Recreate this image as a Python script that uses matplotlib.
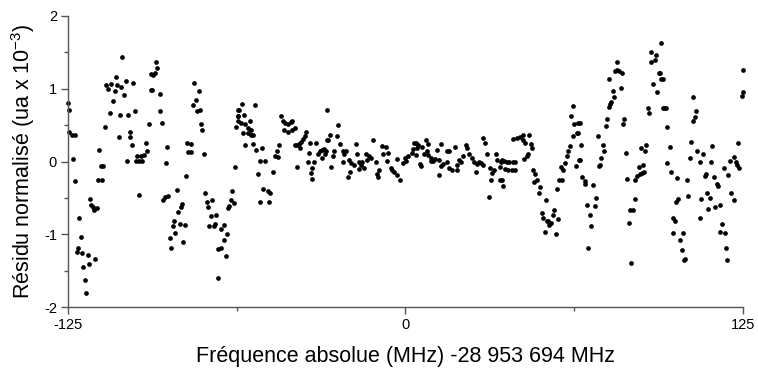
import matplotlib.pyplot as plt
from matplotlib.ticker import MultipleLocator

plt.rcParams['font.family'] = ['Liberation Sans', 'DejaVu Sans']
plt.rcParams['axes.unicode_minus'] = False
plt.rcParams['mathtext.fontset'] = 'custom'
plt.rcParams['mathtext.rm'] = 'Liberation Sans'
plt.rcParams['mathtext.it'] = 'Liberation Sans'

# frequency offset (MHz) and normalised residual (x 1e-3)
freq = [
    -125.0, -124.5, -124.5, -123.5, -122.5, -123.2, -122.3, -120.8, -120.3, -121.3,
    -121.6, -119.8, -119.3, -117.6, -117.3, -114.9, -118.8, -118.3, -116.8, -116.3,
    -115.8, -115.3, -114.4, -113.9, -112.4, -113.4, -112.9, -111.9, -111.4, -110.8,
    -110.2, -108.9, -109.3, -108.3, -107.7, -107.2, -106.8, -106.2, -105.7, -105.2,
    -104.9, -104.2, -103.7, -103.2, -102.9, -102.1, -101.9, -101.3, -100.8, -100.3,
    -99.8, -99.3, -98.8, -98.8, -98.1, -97.6, -96.8, -96.1, -95.6, -94.9,
    -94.4, -94.4, -92.4, -91.9, -92.7, -93.4, -94.0, -91.1, -90.9, -90.3,
    -88.4, -88.8, -89.7, -89.0, -87.8, -84.7, -81.3, -82.9, -83.2, -84.1,
    -85.7, -86.0, -83.7, -81.6, -85.2, -87.2, -86.7, -82.3, -80.8, -79.3,
    -80.4, -79.4, -74.6, -78.3, -76.6, -77.6, -78.6, -77.1, -76.1, -75.6,
    -75.2, -74.2, -73.4, -71.6, -73.0, -72.1, -70.2, -72.6, -71.1, -70.4,
    -68.4, -67.2, -66.2, -67.4, -68.4, -69.4, -66.5, -69.3, -63.1, -64.2,
    -64.7, -63.7, -65.6, -65.2, -62.2, -61.9, -62.2, -62.7,
    -60.5, -55.8, -61.6, -62.0, -59.8, -57.7, -61.0, -59.3, -58.5, -57.1,
    -56.3, -57.3, -58.3, -60.1, -59.3, -56.4, -55.2, -53.1, -46.2, -45.3,
    -44.5, -43.5, -42.5, -42.0, -45.0, -43.7, -42.2, -40.8, -36.7, -37.3,
    -38.0, -38.8, -39.5, -40.3, -41.0, -39.0, -46.7, -47.7, -48.2, -47.2,
    -53.9, -52.1, -54.6, -49.0, -52.6, -51.1, -50.1, -54.0, -50.6, -40.0,
    -35.8, -35.5, -36.1, -33.9, -34.6, -35.1, -34.6, -33.0, -31.8, -32.4,
    -31.1, -30.1, -29.7, -28.9, -30.9, -28.9,
    -25.0, -27.9, -25.4, -28.8, -24.2, -12.1, -18.5, -26.3, -26.9, -23.2,
    -22.2, -22.7, -29.4, -18.0, -14.8, -13.6, -12.7, -14.3, -23.0, -21.0,
    -20.1, -18.9, -17.1, -16.1, -16.6, -27.5, -20.5, -21.4, -17.3, -15.2,
    -10.9, -9.9, -10.6, -10.3, -8.7, -7.4, -8.2, -6.4, -6.9, -5.3,
    -4.9, -4.1, -3.2, -2.2, -3.2, -1.0, 0.0, 0.8, 0.2, 2.5,
    2.9, 3.3,
    3.8, 4.6, 7.5, 8.3, 4.4, 3.8, 6.2, 6.9, 7.8, 8.3,
    13.0, 11.5, 15.2, 16.1, 18.2, 9.6, 9.3, 10.3, 10.8, 12.4,
    14.0, 13.3, 5.4, 5.9, 15.5, 16.1, 17.4, 19.2, 19.0, 20.4,
    19.8, 21.4, 22.3, 22.7, 23.5, 24.8, 25.4, 26.4, 27.2, 28.1,
    28.8, 26.0, 12.4, 28.8, 29.3, 30.1, 33.4, 34.0, 35.5, 31.3,
    32.8, 32.2, 31.5, 35.0, 30.9,
    35.6, 36.5, 37.5, 38.5, 39.7, 40.6, 36.9, 38.1, 39.3, 40.6,
    35.0, 35.6, 36.2, 39.9, 41.4, 42.4, 43.4, 43.6, 44.3, 45.9,
    46.4, 46.7, 45.5, 44.9, 43.9, 47.1, 48.0, 48.6, 47.6, 49.8,
    49.6, 52.0, 50.4, 51.0, 52.3, 53.3, 53.8, 54.5, 55.0, 56.6,
    52.9, 51.7, 55.7, 56.2, 57.0, 57.8, 57.5, 58.5, 59.2, 59.9,
    60.3, 60.9, 62.2, 61.2, 62.4, 63.6, 61.9, 64.0, 64.4, 63.1,
    64.5, 63.9, 65.1, 64.5, 65.4, 66.4, 66.6, 69.5, 70.7, 70.3,
    67.4, 68.2, 68.6, 67.6, 71.3, 73.3, 73.5, 72.5, 71.9, 71.6,
    74.4, 74.8, 75.3, 75.6, 76.2, 77.2, 76.7, 79.7, 77.5, 78.5,
    79.2, 80.2, 78.2, 75.3, 80.9, 80.6, 81.8, 83.7, 82.7, 83.2,
    84.3, 84.9, 82.2, 85.1, 85.9, 86.7, 87.6, 88.3, 86.4, 87.9,
    87.1, 88.6, 89.2, 89.8, 90.1, 91.7, 93.2, 93.8, 94.8, 90.8,
    92.3, 91.1, 92.9, 94.8, 95.4,
    94.3, 95.3, 95.8, 96.3, 96.8, 97.8, 97.0, 98.3, 100.7, 104.2,
    100.2, 101.1, 99.2, 99.9, 99.2, 102.9, 101.7, 102.3, 103.2, 103.6,
    104.8, 106.6, 107.6, 107.3, 106.4, 105.7, 105.2, 108.1, 110.1, 108.9,
    113.4, 113.1, 111.0, 111.3, 114.1, 115.3, 115.9, 111.6, 112.8, 109.6,
    112.2, 114.7, 116.5, 109.1, 117.8, 119.6, 120.5, 121.5, 117.1, 116.3,
    118.4, 118.7, 119.2, 120.2, 121.7, 122.4, 122.9, 123.7, 123.3, 124.5,
    124.9, 124.9,
]
resid = [
    0.80, 0.71, 0.40, 0.37, 0.36, 0.03, -0.27, -0.78, -1.03, -1.19,
    -1.24, -1.25, -1.45, -1.28, -1.41, -1.34, -1.63, -1.80, -0.52, -0.59,
    -0.63, -0.66, -0.64, -0.25, -0.25, 0.16, -0.06, -0.06, 0.47, 1.05,
    0.99, 1.06, 0.67, 0.83, 0.97, 1.16, 1.05, 0.33, 0.64, 1.02,
    1.44, 0.91, 1.10, 0.01, 0.64, 0.34, 0.41, 0.22, 1.08, 0.69,
    0.01, 0.08, -0.46, 0.01, 0.08, 0.01, 0.09, 0.25, 0.14, 0.51,
    1.20, 0.98, 1.37, 1.28, 1.21, 1.19, 0.98, 0.93, 0.69, 0.53,
    0.20, -0.02, -0.53, -0.49, -0.47, -0.39, -0.20, -0.58, -0.62, -0.69,
    -0.82, -0.88, -0.86, -0.87, -0.98, -1.05, -1.19, -1.11, 0.25, 0.24,
    0.13, 0.13, 0.11, 1.08, 0.97, 0.84, 0.78, 0.69, 0.70, 0.52,
    0.43, -0.43, -0.56, -0.53, -0.62, -0.75, -0.73, -0.89, -0.89, -0.86,
    -0.92, -0.87, -0.99, -1.07, -1.19, -1.20, -1.29, -1.60, -0.07, -0.40,
    -0.53, -0.57, -0.64, -0.61, 0.70, 0.62, 0.55, 0.47,
    0.79, 0.78, 0.70, 0.62, 0.64, 0.56, 0.53, 0.52, 0.46, 0.43,
    0.37, 0.37, 0.39, 0.39, 0.23, 0.24, 0.16, 0.18, 0.62, 0.56,
    0.53, 0.52, 0.54, 0.56, 0.43, 0.40, 0.43, 0.46, 0.40, 0.35,
    0.31, 0.27, 0.24, 0.22, 0.23, 0.18, 0.23, 0.14, 0.07, 0.06,
    0.01, 0.01, -0.17, -0.14, -0.37, -0.40, -0.43, -0.55, -0.55, -0.08,
    0.12, 0.25, -0.01, -0.01, -0.09, -0.16, -0.24, 0.26, 0.14, 0.11,
    0.16, 0.17, 0.11, 0.30, 0.05, 0.70,
    0.50, 0.37, 0.35, 0.29, 0.24, 0.30, 0.24, 0.14, 0.08, 0.15,
    0.14, 0.11, 0.14, 0.11, 0.11, 0.07, 0.05, 0.02, 0.00, 0.02,
    -0.02, -0.05, 0.00, -0.01, -0.05, -0.08, -0.14, -0.21, -0.10, -0.09,
    0.00, -0.11, -0.17, -0.21, 0.21, 0.20, 0.11, 0.12, 0.01, -0.09,
    -0.12, -0.15, -0.18, -0.26, 0.03, -0.02, 0.05, 0.08, 0.01, 0.12,
    0.17, 0.26,
    0.26, 0.23, 0.29, 0.24, 0.18, 0.09, 0.20, 0.11, 0.14, 0.09,
    0.24, 0.16, 0.14, 0.14, 0.20, 0.05, 0.01, 0.01, 0.03, 0.02,
    -0.03, -0.06, -0.03, -0.06, 0.00, -0.09, -0.11, -0.11, -0.05, -0.01,
    0.02, 0.07, 0.23, 0.18, 0.11, 0.05, 0.00, -0.03, -0.01, -0.02,
    -0.05, -0.14, -0.18, 0.32, 0.25, 0.11, 0.11, 0.02, 0.00, -0.09,
    -0.11, -0.16, -0.25, -0.26, -0.49,
    0.02, 0.01, 0.00, -0.01, -0.01, -0.01, -0.10, -0.12, -0.12, -0.12,
    -0.08, -0.25, -0.33, 0.31, 0.32, 0.34, 0.37, 0.29, 0.25, 0.37,
    0.24, 0.18, 0.11, 0.07, 0.03, -0.12, -0.17, -0.25, -0.28, -0.35,
    -0.43, -0.53, -0.70, -0.78, -0.82, -0.87, -0.84, -0.73, -0.67, -0.79,
    -0.82, -0.96, -0.99, -0.37, -0.25, -0.25, -0.08, -0.12, -0.02, 0.07,
    0.15, 0.21, 0.76, 0.62, 0.52, 0.39, 0.35, 0.53, 0.02, -0.06,
    0.53, 0.39, 0.23, 0.02, -0.21, -0.27, -0.31, -0.32, -0.50, -0.61,
    -0.59, -0.73, -0.88, -1.19, 0.35, 0.23, 0.15, 0.05, -0.05, -0.06,
    0.49, 0.59, 0.75, 0.79, 0.82, 0.89, 0.97, 1.01, 1.24, 1.25,
    1.24, 1.21, 1.36, 1.13, 0.59, 0.52, 0.12, -1.39, -0.84, -0.67,
    -0.67, -0.52, -0.24, -0.25, -0.20, -0.17, -0.16, -0.15, -0.08, -0.05,
    0.18, 0.15, 0.23, 0.73, 0.67, 1.07, 0.96, 1.21, 1.13, 1.37,
    1.39, 1.50, 1.46, 1.63, 0.73,
    1.22, 1.13, 0.73, 0.73, 0.48, 0.20, -0.02, -0.15, -0.23, -0.26,
    -0.55, -0.52, -0.78, -0.81, -0.98, -0.98, -1.07, -1.22, -1.35, -1.34,
    -0.47, 0.89, 0.69, 0.61, 0.56, 0.27, 0.05, 0.15, 0.11, 0.00,
    0.21, 0.00, -0.20, -0.17, -0.21, -0.31, -0.33, -0.43, -0.50, -0.52,
    -0.65, -0.62, -0.59, -0.78, -0.09, -0.18, -0.43, -0.53, -0.85, -0.97,
    -0.98, -1.19, -1.35, 0.01, 0.06, 0.00, -0.05, -0.09, 0.25, 0.90,
    0.95, 1.25,
]

fig = plt.figure(figsize=(7.58, 3.69), dpi=100)
ax = fig.add_axes([0.0897, 0.167, 0.8905, 0.7905])

ax.plot(freq, resid, 'o', color='black', ms=3.4, mew=0, clip_on=False)

ax.set_xlim(-125, 125)
ax.set_ylim(-2, 2)
ax.set_xticks([-125, 0, 125])
ax.xaxis.set_minor_locator(MultipleLocator(62.5))
ax.yaxis.set_major_locator(MultipleLocator(1))
ax.yaxis.set_minor_locator(MultipleLocator(0.5))

for side in ['top', 'right']:
    ax.spines[side].set_visible(False)
for side in ['left', 'bottom']:
    ax.spines[side].set_color('#555555')
    ax.spines[side].set_linewidth(1.0)

ax.tick_params(which='major', direction='out', length=5, width=1,
               color='#555555', labelsize=10.5, pad=3)
ax.tick_params(which='minor', direction='out', length=3, width=1,
               color='#555555')
for lbl in ax.get_xticklabels() + ax.get_yticklabels():
    lbl.set_family(['Liberation Sans Narrow', 'Liberation Sans'])

ax.set_xlabel('Fréquence absolue (MHz) -28 953 694 MHz', fontsize=15.5, labelpad=10)
ax.set_ylabel('Résidu normalisé (ua x 10$^{-3}$)', fontsize=15.5, labelpad=5)

fig.savefig('out.png', dpi=100)
